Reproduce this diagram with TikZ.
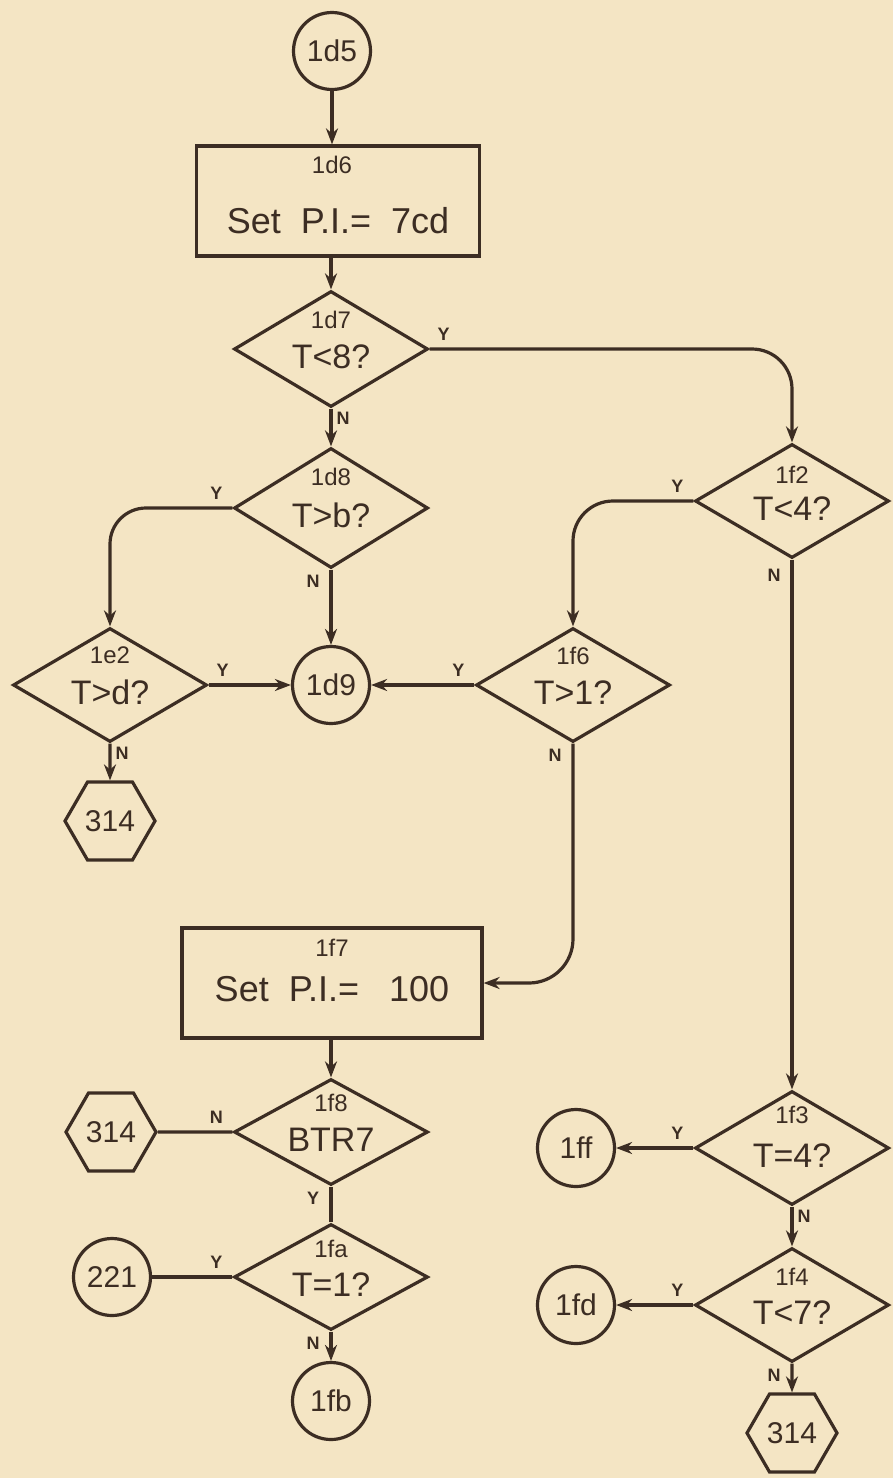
\documentclass[tikz,border=0pt]{standalone}
\usepackage{fontspec}
\setmainfont{Liberation Sans}
\usetikzlibrary{shapes.geometric,arrows.meta,positioning}
\definecolor{ink}{HTML}{3C2D23}
\definecolor{paper}{HTML}{F4E5C4}
\tikzset{
  shp/.style={draw=ink,line width=1.6pt,text=ink,inner sep=0pt},
  dec/.style={shp,diamond,aspect=1.7,minimum width=97pt,minimum height=57pt,
    text height=19pt,text depth=0pt,font=\fontsize{17}{20}\selectfont},
  proc/.style={shp,rectangle,minimum width=#1,minimum height=55pt,font=\fontsize{18}{22}\selectfont},
  conn/.style={shp,circle,minimum size=38.5pt,font=\fontsize{15}{18}\selectfont},
  exitp/.style={shp,regular polygon,regular polygon sides=6,minimum size=45pt,font=\fontsize{15}{18}\selectfont},
  num/.style={text=ink,inner sep=0pt,font=\fontsize{12}{14}\selectfont},
  yn/.style={text=ink,inner sep=0pt,font=\fontsize{9}{10}\selectfont\bfseries},
  tagul/.style={yn,xshift=-8pt,yshift=7.5pt},
  tagur/.style={yn,xshift=7pt,yshift=7.5pt},
  tagdl/.style={yn,xshift=-9pt,yshift=-6pt},
  tagdr/.style={yn,xshift=6pt,yshift=-5pt},
  flow/.style={draw=ink,line width=1.6pt,-{Stealth[length=8pt,width=6pt]}},
  link/.style={draw=ink,line width=1.6pt},
}
\begin{document}
\begin{tikzpicture}[x=0.5pt,y=-0.5pt]
\fill[paper] (0,0) rectangle (893,1478);
\useasboundingbox (0,0) rectangle (893,1478);

% centre column
\node[conn] (d5) at (332,51) {1d5};
\node[proc=141.5pt,text height=33pt] (d6) at (338,201) {Set~ P.I.=~ 7cd};
\node[num] (n6) at (332,165) {1d6};
\node[dec,minimum height=58pt] (d7) at (331,349) {T<8?};
\node[num] (n7) at (331,320) {1d7};
\node[dec,minimum height=60pt] (d8) at (331,508) {T>b?};
\node[num] (n8) at (331,477) {1d8};
\node[conn] (d9) at (331,685) {1d9};

% left column
\node[dec] (e2) at (110,685) {T>d?};
\node[num] (ne2) at (110,655) {1e2};
\node[exitp] (x1) at (110,821) {314};

% middle / right
\node[dec] (f2) at (792,501) {T<4?};
\node[num] (nf2) at (792,475) {1f2};
\node[dec] (f6) at (573,685) {T>1?};
\node[num] (nf6) at (573,656) {1f6};

% lower part
\node[proc=150pt,text height=19pt] (f7) at (332,983) {Set~ P.I.=~~ 100};
\node[num] (nf7) at (332,948) {1f7};
\node[dec,minimum height=53pt] (f8) at (331,1132) {BTR7};
\node[num] (nf8) at (331,1103) {1f8};
\node[exitp] (x2) at (111,1132) {314};
\node[dec,minimum height=53pt] (fa) at (331,1277) {T=1?};
\node[num] (nfa) at (331,1249) {1fa};
\node[conn] (c221) at (112,1277) {221};
\node[conn] (fb) at (331,1401) {1fb};

\node[dec] (f3) at (792,1148) {T=4?};
\node[num] (nf3) at (792,1115) {1f3};
\node[conn] (ff) at (576,1148) {1ff};
\node[dec] (f4) at (792,1305) {T<7?};
\node[num] (nf4) at (792,1277) {1f4};
\node[conn] (fd) at (576,1305) {1fd};
\node[exitp] (x3) at (792,1433) {314};

% connectors
\draw[flow] (d5) -- (d5 |- d6.north);
\draw[flow] (d7 |- d6.south) -- (d7.north);
\draw[flow,rounded corners=20pt] (d7.east) node[tagur]{Y} -| (f2.north);
\draw[flow] (d7.south) node[tagdr]{N} -- (d8.north);
\draw[flow,rounded corners=18pt] (d8.west) node[tagul]{Y} -| (e2.north);
\draw[flow] (d8.south) node[tagdl]{N} -- (d9.north);
\draw[flow] (e2.east) node[tagur]{Y} -- (d9.west);
\draw[flow] (e2.south) node[tagdr]{N} -- (x1.north);
\draw[flow,rounded corners=20pt] (f2.west) node[tagul]{Y} -| (f6.north);
\draw[flow] (f2.south) node[tagdl,yshift=-2pt]{N} -- (f3.north);
\draw[flow] (f6.west) node[tagul]{Y} -- (d9.east);
\draw[flow,rounded corners=22pt] (f6.south) node[tagdl]{N} |- (f7.east);
\draw[flow] (f7.south -| f8) -- (f8.north);
\draw[link] (f8.west) node[tagul]{N} -- (x2.east);
\draw[link] (f8.south) node[tagdl]{Y} -- (fa.north);
\draw[link] (fa.west) node[tagul]{Y} -- (c221.east);
\draw[flow] (fa.south) node[tagdl]{N} -- (fb.north);
\draw[flow] (f3.west) node[tagul]{Y} -- (ff.east);
\draw[flow] (f3.south) node[tagdr]{N} -- (f4.north);
\draw[flow] (f4.west) node[tagul]{Y} -- (fd.east);
\draw[flow] (f4.south) node[tagdl]{N} -- (x3.north);
\end{tikzpicture}
\end{document}
